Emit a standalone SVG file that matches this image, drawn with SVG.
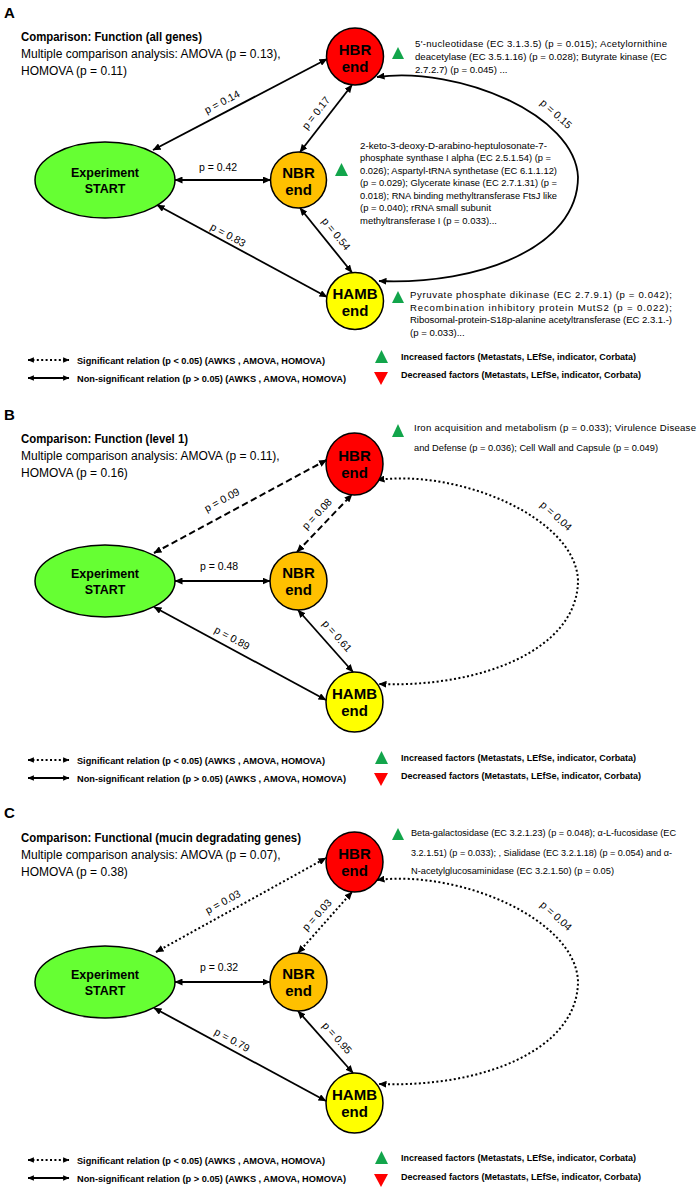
<svg xmlns="http://www.w3.org/2000/svg" width="700" height="1190" viewBox="0 0 700 1190">
<defs>
<marker id="ah" viewBox="0 0 8 7" refX="7.5" refY="3.5" markerWidth="8" markerHeight="7" markerUnits="userSpaceOnUse" orient="auto-start-reverse"><path d="M0,0 L8,3.5 L0,7 z" fill="#000"/></marker>
<marker id="ahs" viewBox="0 0 8 7" refX="7.5" refY="3.5" markerWidth="6.5" markerHeight="5.5" markerUnits="userSpaceOnUse" orient="auto-start-reverse"><path d="M0,0 L8,3.5 L0,7 z" fill="#000"/></marker>
<style>
text{font-family:"Liberation Sans",Arial,sans-serif;fill:#000}
.pl{font-size:15px;font-weight:bold}
.ttl{font-size:12px;font-weight:bold}
.sub{font-size:12px}
.nt{font-size:15px;font-weight:bold;text-anchor:middle}
.et{font-size:12.5px;font-weight:bold;text-anchor:middle}
.lbl{font-size:10.5px;text-anchor:middle}
.info{font-size:9.6px}
.leg{font-size:9.6px;font-weight:bold}
.node{stroke:#000;stroke-width:1.5}
.conn{stroke:#000;stroke-width:1.8;fill:none;marker-start:url(#ah);marker-end:url(#ah)}
.dash{stroke-dasharray:6.5 3.5;stroke-width:2}
.dot{stroke-dasharray:2 2.4;stroke-width:2}
.legl{stroke:#000;stroke-width:1.8;fill:none;marker-start:url(#ahs);marker-end:url(#ahs)}
.up{fill:#12A54B}
.down{fill:#FF0000}
</style>
</defs>

<!-- ===================== PANEL A ===================== -->
<g id="panelA-header">
<text x="4" y="18" class="pl">A</text>
<text x="21" y="41" class="ttl" textLength="181" lengthAdjust="spacingAndGlyphs">Comparison: Function (all genes)</text>
<text x="21" y="58" class="sub">Multiple comparison analysis: AMOVA (p = 0.13),</text>
<text x="21" y="75" class="sub">HOMOVA (p = 0.11)</text>
</g>
<g id="connectorsA">
<line class="conn" x1="153" y1="150" x2="327" y2="59"/>
<line class="conn" x1="175" y1="180" x2="270.5" y2="180"/>
<line class="conn" x1="300" y1="152" x2="352" y2="85"/>
<line class="conn" x1="157" y1="205" x2="327" y2="297"/>
<line class="conn" x1="300" y1="208" x2="352" y2="272.5"/>
<path class="conn" d="M377,77 C460,66 575,115 578,177 C578,247 480,285 379,281"/>
<text class="lbl" transform="translate(222,102) rotate(-27.6)" y="3.5">p = 0.14</text>
<text class="lbl" x="218" y="171">p = 0.42</text>
<text class="lbl" transform="translate(316,113) rotate(-52)" y="3.5">p = 0.17</text>
<text class="lbl" transform="translate(228,235) rotate(28.4)" y="3.5">p = 0.83</text>
<text class="lbl" transform="translate(336,234) rotate(51)" y="3.5">p = 0.54</text>
<text class="lbl" transform="translate(556,114) rotate(42)" y="3.5">p = 0.15</text>
</g>
<g id="A-exp">
<ellipse class="node" cx="105" cy="180" rx="70" ry="38" fill="#66FF33"/>
<text class="et" x="105" y="177">Experiment</text>
<text class="et" x="105" y="193">START</text>
</g>
<g id="A-hbr">
<circle class="node" cx="355" cy="56.5" r="28.5" fill="#FF0000"/>
<text class="nt" x="355" y="54.5">HBR</text>
<text class="nt" x="355" y="71.5">end</text>
</g>
<g id="A-nbr">
<circle class="node" cx="298.5" cy="180" r="28" fill="#FFC000"/>
<text class="nt" x="298.5" y="177.5">NBR</text>
<text class="nt" x="298.5" y="194.5">end</text>
</g>
<g id="A-hamb">
<circle class="node" cx="355" cy="301" r="28.5" fill="#FFFF00"/>
<text class="nt" x="355" y="298.5">HAMB</text>
<text class="nt" x="355" y="315.5">end</text>
</g>
<g id="A-hbr-info">
<polygon class="up" points="392,59 404,59 398,47"/>
<text class="info" x="415" y="47" textLength="252" lengthAdjust="spacing">5'-nucleotidase (EC 3.1.3.5) (p = 0.015); Acetylornithine</text>
<text class="info" x="415" y="60" textLength="252" lengthAdjust="spacing">deacetylase (EC 3.5.1.16) (p = 0.028); Butyrate kinase (EC</text>
<text class="info" x="415" y="73">2.7.2.7) (p = 0.045) ...</text>
</g>
<g id="A-nbr-info">
<polygon class="up" points="335,176 348,176 341.5,163"/>
<text class="info" x="360" y="148.5" textLength="187" lengthAdjust="spacingAndGlyphs">2-keto-3-deoxy-D-arabino-heptulosonate-7-</text>
<text class="info" x="360" y="161" textLength="191" lengthAdjust="spacingAndGlyphs">phosphate synthase I alpha (EC 2.5.1.54) (p =</text>
<text class="info" x="360" y="173.5" textLength="197" lengthAdjust="spacingAndGlyphs">0.026); Aspartyl-tRNA synthetase (EC 6.1.1.12)</text>
<text class="info" x="360" y="186" textLength="197" lengthAdjust="spacingAndGlyphs">(p = 0.029); Glycerate kinase (EC 2.7.1.31) (p =</text>
<text class="info" x="360" y="198.5" textLength="197" lengthAdjust="spacingAndGlyphs">0.018); RNA binding methyltransferase FtsJ like</text>
<text class="info" x="360" y="211" textLength="131" lengthAdjust="spacingAndGlyphs">(p = 0.040); rRNA small subunit</text>
<text class="info" x="360" y="223.5" textLength="137" lengthAdjust="spacingAndGlyphs">methyltransferase I (p = 0.033)...</text>
</g>
<g id="A-hamb-info">
<polygon class="up" points="392,303 404,303 398,291"/>
<text class="info" x="410" y="298" textLength="262" lengthAdjust="spacing">Pyruvate phosphate dikinase (EC 2.7.9.1) (p = 0.042);</text>
<text class="info" x="410" y="310.7" textLength="262" lengthAdjust="spacing">Recombination inhibitory protein MutS2 (p = 0.022);</text>
<text class="info" x="410" y="323.4" textLength="262" lengthAdjust="spacing">Ribosomal-protein-S18p-alanine acetyltransferase (EC 2.3.1.-)</text>
<text class="info" x="410" y="336">(p = 0.033)...</text>
</g>
<g id="A-legend">
<line class="legl dot" x1="28" y1="360" x2="69" y2="360"/>
<text class="leg" x="77" y="363.5" textLength="248" lengthAdjust="spacingAndGlyphs">Significant relation (p &lt; 0.05) (AWKS , AMOVA, HOMOVA)</text>
<line class="legl" x1="28" y1="378" x2="69" y2="378"/>
<text class="leg" x="77" y="381.5" textLength="269" lengthAdjust="spacingAndGlyphs">Non-significant relation (p &gt; 0.05) (AWKS , AMOVA, HOMOVA)</text>
<polygon class="up" points="375,363 388,363 381.5,350"/>
<text class="leg" x="401" y="360" textLength="235" lengthAdjust="spacingAndGlyphs">Increased factors (Metastats, LEfSe, indicator, Corbata)</text>
<polygon class="down" points="374,372 388,372 381,385"/>
<text class="leg" x="401" y="378" textLength="240" lengthAdjust="spacingAndGlyphs">Decreased factors (Metastats, LEfSe, indicator, Corbata)</text>
</g>

<!-- ===================== PANEL B ===================== -->
<g id="panelB-header">
<text x="4" y="420" class="pl">B</text>
<text x="21" y="443" class="ttl" textLength="167" lengthAdjust="spacingAndGlyphs">Comparison: Function (level 1)</text>
<text x="21" y="460" class="sub">Multiple comparison analysis: AMOVA (p = 0.11),</text>
<text x="21" y="477" class="sub">HOMOVA (p = 0.16)</text>
</g>
<g id="connectorsB">
<line class="conn dash" x1="154" y1="553" x2="326.5" y2="460"/>
<line class="conn dash" x1="297" y1="552" x2="352" y2="494.5"/>
<line class="conn" x1="175" y1="581" x2="270" y2="581"/>
<line class="conn" x1="154" y1="607" x2="326" y2="700"/>
<line class="conn" x1="298" y1="610" x2="353" y2="672"/>
<path class="conn dot" d="M377,480 C460,469 575,518 578,580 C578,650 480,688 379,684"/>
<text class="lbl" transform="translate(222,500) rotate(-28.4)" y="3.5">p = 0.09</text>
<text class="lbl" transform="translate(317,514) rotate(-47)" y="3.5">p = 0.08</text>
<text class="lbl" x="219" y="570">p = 0.48</text>
<text class="lbl" transform="translate(232,638) rotate(28.4)" y="3.5">p = 0.89</text>
<text class="lbl" transform="translate(337,636) rotate(48.5)" y="3.5">p = 0.61</text>
<text class="lbl" transform="translate(556,516) rotate(42)" y="3.5">p = 0.04</text>
</g>
<g id="B-exp">
<ellipse class="node" cx="105" cy="581" rx="70" ry="36" fill="#66FF33"/>
<text class="et" x="105" y="578">Experiment</text>
<text class="et" x="105" y="594">START</text>
</g>
<g id="B-hbr">
<ellipse class="node" cx="354.5" cy="464" rx="28.5" ry="31" fill="#FF0000"/>
<text class="nt" x="354.5" y="461">HBR</text>
<text class="nt" x="354.5" y="478">end</text>
</g>
<g id="B-nbr">
<ellipse class="node" cx="298.5" cy="581" rx="28.5" ry="29" fill="#FFC000"/>
<text class="nt" x="298.5" y="578">NBR</text>
<text class="nt" x="298.5" y="595">end</text>
</g>
<g id="B-hamb">
<ellipse class="node" cx="354.5" cy="702" rx="28.5" ry="30" fill="#FFFF00"/>
<text class="nt" x="354.5" y="699">HAMB</text>
<text class="nt" x="354.5" y="716">end</text>
</g>
<g id="B-hbr-info">
<polygon class="up" points="392,437 404,437 398,424"/>
<text class="info" x="414" y="431" textLength="282" lengthAdjust="spacing">Iron acquisition and metabolism (p = 0.033); Virulence Disease</text>
<text class="info" x="414" y="451" textLength="244" lengthAdjust="spacingAndGlyphs">and Defense (p = 0.036); Cell Wall and Capsule (p = 0.049)</text>
</g>
<g id="B-legend">
<line class="legl dot" x1="28" y1="760" x2="69" y2="760"/>
<text class="leg" x="77" y="763.5" textLength="248" lengthAdjust="spacingAndGlyphs">Significant relation (p &lt; 0.05) (AWKS , AMOVA, HOMOVA)</text>
<line class="legl" x1="28" y1="778" x2="69" y2="778"/>
<text class="leg" x="77" y="781.5" textLength="269" lengthAdjust="spacingAndGlyphs">Non-significant relation (p &gt; 0.05) (AWKS , AMOVA, HOMOVA)</text>
<polygon class="up" points="375,764 388,764 381.5,751"/>
<text class="leg" x="401" y="761" textLength="235" lengthAdjust="spacingAndGlyphs">Increased factors (Metastats, LEfSe, indicator, Corbata)</text>
<polygon class="down" points="374,773 388,773 381,786"/>
<text class="leg" x="401" y="779" textLength="240" lengthAdjust="spacingAndGlyphs">Decreased factors (Metastats, LEfSe, indicator, Corbata)</text>
</g>

<!-- ===================== PANEL C ===================== -->
<g id="panelC-header">
<text x="4" y="818" class="pl">C</text>
<text x="21" y="842" class="ttl" textLength="280" lengthAdjust="spacingAndGlyphs">Comparison: Functional (mucin degradating genes)</text>
<text x="21" y="859" class="sub">Multiple comparison analysis: AMOVA (p = 0.07),</text>
<text x="21" y="876" class="sub">HOMOVA (p = 0.38)</text>
</g>
<g id="connectorsC">
<line class="conn dot" x1="156" y1="952" x2="326" y2="858"/>
<line class="conn dot" x1="298" y1="953" x2="352" y2="892"/>
<line class="conn" x1="175" y1="982" x2="270" y2="982"/>
<line class="conn" x1="154" y1="1008" x2="326" y2="1101"/>
<line class="conn" x1="298" y1="1011" x2="353" y2="1073"/>
<path class="conn dot" d="M377,880 C460,870 575,919 578,981 C578,1051 480,1088 379,1084"/>
<text class="lbl" transform="translate(223,902) rotate(-28.5)" y="3.5">p = 0.03</text>
<text class="lbl" transform="translate(317,915) rotate(-48)" y="3.5">p = 0.03</text>
<text class="lbl" x="219" y="971">p = 0.32</text>
<text class="lbl" transform="translate(232,1040) rotate(28.4)" y="3.5">p = 0.79</text>
<text class="lbl" transform="translate(337,1038) rotate(48.5)" y="3.5">p = 0.95</text>
<text class="lbl" transform="translate(556,916) rotate(42)" y="3.5">p = 0.04</text>
</g>
<g id="C-exp">
<ellipse class="node" cx="105" cy="982" rx="70" ry="36" fill="#66FF33"/>
<text class="et" x="105" y="979">Experiment</text>
<text class="et" x="105" y="995">START</text>
</g>
<g id="C-hbr">
<ellipse class="node" cx="354.5" cy="862" rx="28.5" ry="30" fill="#FF0000"/>
<text class="nt" x="354.5" y="859">HBR</text>
<text class="nt" x="354.5" y="876">end</text>
</g>
<g id="C-nbr">
<ellipse class="node" cx="298.5" cy="982" rx="28.5" ry="29" fill="#FFC000"/>
<text class="nt" x="298.5" y="979">NBR</text>
<text class="nt" x="298.5" y="996">end</text>
</g>
<g id="C-hamb">
<ellipse class="node" cx="354.5" cy="1103" rx="28.5" ry="30" fill="#FFFF00"/>
<text class="nt" x="354.5" y="1100">HAMB</text>
<text class="nt" x="354.5" y="1117">end</text>
</g>
<g id="C-hbr-info">
<polygon class="up" points="392,840 404,840 398,828"/>
<text class="info" x="411" y="836" textLength="265" lengthAdjust="spacingAndGlyphs">Beta-galactosidase (EC 3.2.1.23) (p = 0.048); α-L-fucosidase (EC</text>
<text class="info" x="411" y="856" textLength="261" lengthAdjust="spacingAndGlyphs">3.2.1.51) (p = 0.033); , Sialidase (EC 3.2.1.18) (p = 0.054) and α-</text>
<text class="info" x="411" y="874" textLength="203" lengthAdjust="spacingAndGlyphs">N-acetylglucosaminidase (EC 3.2.1.50) (p = 0.05)</text>
</g>
<g id="C-legend">
<line class="legl dot" x1="28" y1="1160" x2="69" y2="1160"/>
<text class="leg" x="77" y="1163.5" textLength="248" lengthAdjust="spacingAndGlyphs">Significant relation (p &lt; 0.05) (AWKS , AMOVA, HOMOVA)</text>
<line class="legl" x1="28" y1="1178" x2="69" y2="1178"/>
<text class="leg" x="77" y="1181.5" textLength="269" lengthAdjust="spacingAndGlyphs">Non-significant relation (p &gt; 0.05) (AWKS , AMOVA, HOMOVA)</text>
<polygon class="up" points="375,1164 388,1164 381.5,1151"/>
<text class="leg" x="401" y="1161" textLength="235" lengthAdjust="spacingAndGlyphs">Increased factors (Metastats, LEfSe, indicator, Corbata)</text>
<polygon class="down" points="374,1174 388,1174 381,1187"/>
<text class="leg" x="401" y="1180" textLength="240" lengthAdjust="spacingAndGlyphs">Decreased factors (Metastats, LEfSe, indicator, Corbata)</text>
</g>
</svg>
